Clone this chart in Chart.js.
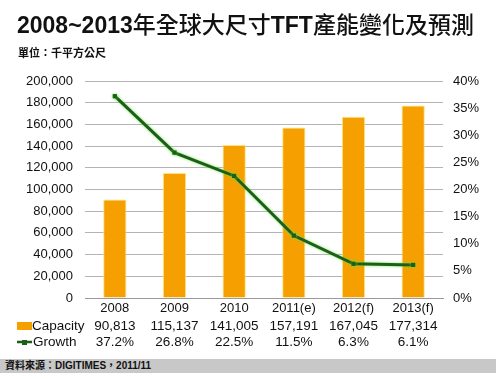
<!DOCTYPE html>
<html><head><meta charset="utf-8">
<script src="https://cdn.jsdelivr.net/npm/chart.js@4/dist/chart.umd.min.js"></script>
<style>
html,body{margin:0;padding:0;background:#fff;}
#wrap{position:relative;width:496px;height:379px;overflow:hidden;}
#c{position:absolute;left:0;top:0;}
.t{position:absolute;left:17px;top:8px;font:bold 23px "Liberation Sans","Noto Sans CJK TC",sans-serif;color:#111;white-space:nowrap;line-height:30px;}
.t .k{font-weight:500;font-family:"Noto Sans CJK TC",sans-serif;}
.s{position:absolute;left:18px;top:45px;font:600 11px "Liberation Sans","Noto Sans CJK TC",sans-serif;color:#111;white-space:nowrap;line-height:16px;}
.src{position:absolute;left:0;top:359px;width:496px;height:14px;background:#c8c8c8;}
.src span{position:absolute;left:5px;top:0;font:bold 10px "Liberation Sans","Noto Sans CJK TC",sans-serif;color:#111;line-height:14px;white-space:nowrap;}
</style></head>
<body><div id="wrap">
<canvas id="c" width="496" height="379"></canvas>
<div class="t">2008~2013<span class="k">年全球大尺寸</span>TFT<span class="k">產能變化及預測</span></div>
<div class="s">單位：千平方公尺</div>
<div class="src"><span>資料來源：DIGITIMES，2011/11</span></div>
</div>
<script>
const categories = ['2008','2009','2010','2011(e)','2012(f)','2013(f)'];
const capacity = [90813,115137,141005,157191,167045,177314];
const growth = [37.2,26.8,22.5,11.5,6.3,6.1];
const capacityLabels = ['90,813','115,137','141,005','157,191','167,045','177,314'];
const growthLabels = ['37.2%','26.8%','22.5%','11.5%','6.3%','6.1%'];

const FONT = '"Liberation Sans", Arial, sans-serif';
const ORANGE = '#F5A000';
const GREEN = '#1d5e1d';

const tablePlugin = {
  id:'table',
  afterDraw(chart){
    const ctx = chart.ctx, x = chart.scales.x;
    ctx.save();
    ctx.font = '13.5px ' + FONT;
    ctx.fillStyle = '#111';
    ctx.textBaseline = 'middle';
    const rows = [[capacityLabels, 326],[growthLabels, 342]];
    rows.forEach(([labels, y]) => {
      ctx.textAlign = 'center';
      labels.forEach((t,i)=>ctx.fillText(t, x.getPixelForValue(i), y));
    });
    ctx.textAlign = 'left';
    ctx.fillText('Capacity', 32, 326);
    ctx.fillText('Growth', 33, 342);
    ctx.fillStyle = ORANGE;
    ctx.fillRect(17, 322, 15, 8);
    ctx.strokeStyle = GREEN; ctx.lineWidth = 2.5;
    ctx.beginPath(); ctx.moveTo(17, 342); ctx.lineTo(32, 342); ctx.stroke();
    ctx.fillStyle = GREEN; ctx.fillRect(22, 340, 5, 5);
    ctx.restore();
  }
};
const glowPlugin = {
  id:'glow',
  beforeDatasetDraw(chart, args){
    if (args.meta.type === 'line'){
      chart.ctx.save();
      chart.ctx.shadowColor = 'rgba(110,230,60,0.9)';
      chart.ctx.shadowBlur = 3;
    }
  },
  afterDatasetDraw(chart, args){
    if (args.meta.type === 'line') chart.ctx.restore();
  }
};

new Chart(document.getElementById('c'), {
  data:{
    labels: categories,
    datasets:[
      {type:'line', label:'Growth', data: growth, yAxisID:'y1', borderColor:GREEN, backgroundColor:GREEN,
       borderWidth:3, pointStyle:'rect', pointRadius:3, pointBorderWidth:0, tension:0, order:0},
      {type:'bar', label:'Capacity', data: capacity, yAxisID:'y', backgroundColor:ORANGE,
       borderColor:'#FFE27A', borderWidth:1, categoryPercentage:1, barPercentage:0.39, order:1}
    ]
  },
  options:{
    responsive:false, animation:false, devicePixelRatio:1,
    layout:{padding:{top:81,left:0,right:0,bottom:0}},
    plugins:{legend:{display:false}, tooltip:{enabled:false}, title:{display:false}},
    scales:{
      x:{
        grid:{display:false, drawTicks:false},
        border:{display:true, color:'#9a9a9a', width:1},
        ticks:{color:'#111', font:{family:FONT, size:13}, padding:3, maxRotation:0, autoSkip:false},
        afterFit(s){ s.height = 81; }
      },
      y:{
        position:'left', min:0, max:200000,
        grid:{color:'#b4b4b4', drawTicks:false},
        border:{display:false},
        ticks:{stepSize:20000, color:'#111', font:{family:FONT, size:13}, padding:12,
          callback:v=>v.toLocaleString('en-US')},
        afterFit(s){ s.width = 85; }
      },
      y1:{
        position:'right', min:0, max:40,
        grid:{display:false, drawTicks:false},
        border:{display:false},
        ticks:{stepSize:5, color:'#111', font:{family:FONT, size:13}, padding:10,
          callback:v=>v+'%'},
        afterFit(s){ s.width = 53; }
      }
    }
  },
  plugins:[tablePlugin, glowPlugin]
});
</script>
</body></html>
